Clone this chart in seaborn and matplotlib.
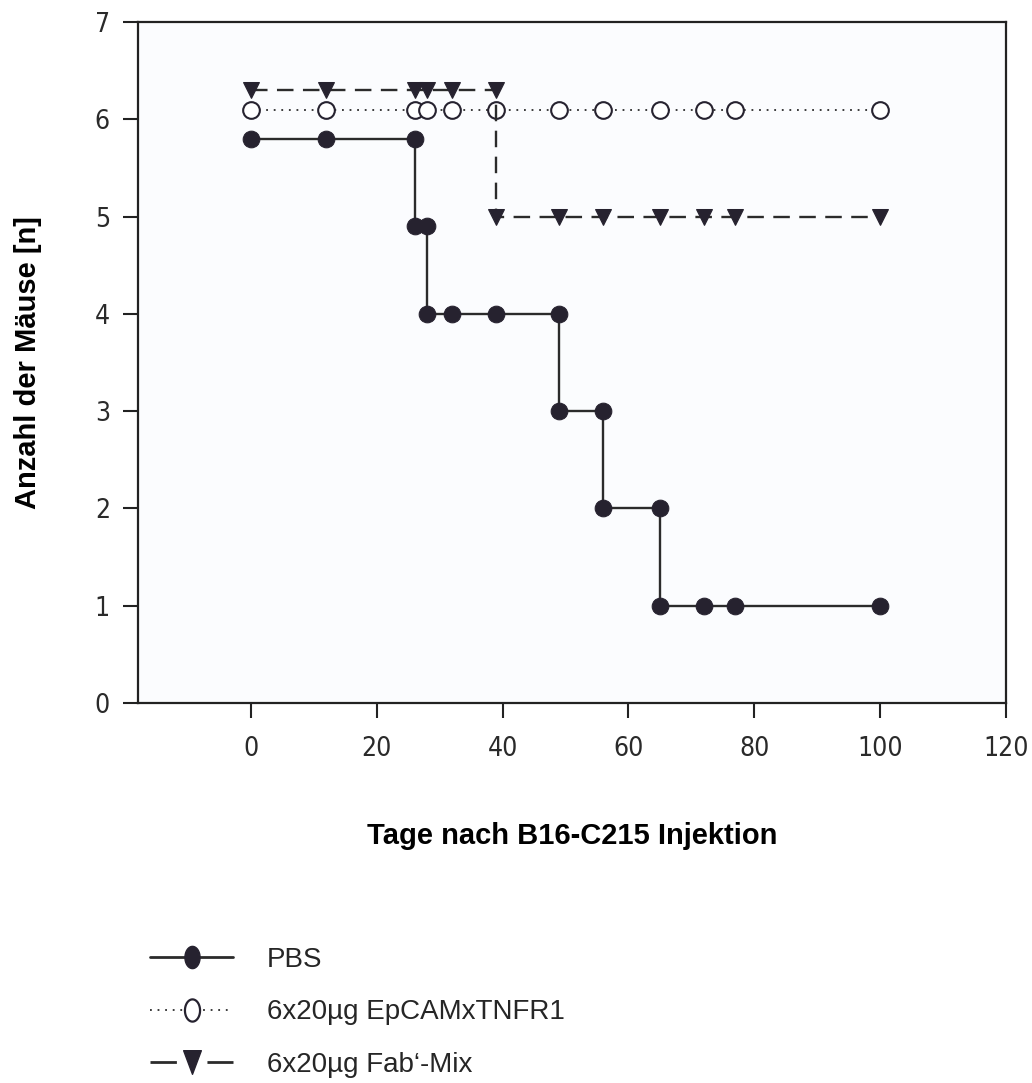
import matplotlib
matplotlib.use("Agg")
import matplotlib.pyplot as plt
import numpy as np
import seaborn as sns
from matplotlib.lines import Line2D
from matplotlib.path import Path
from matplotlib import font_manager

# ---- survival counts (steps drawn point to point, drops repeat the day) ----
days_pbs = [0, 12, 26, 26, 28, 28, 32, 39, 49, 49, 56, 56, 65, 65, 72, 77, 100]
mice_pbs = [5.8, 5.8, 5.8, 4.9, 4.9, 4.0, 4.0, 4.0, 4.0, 3.0, 3.0, 2.0, 2.0, 1.0, 1.0, 1.0, 1.0]

days_epcam = [0, 12, 26, 28, 32, 39, 49, 56, 65, 72, 77, 100]
mice_epcam = [6.1, 6.1, 6.1, 6.1, 6.1, 6.1, 6.1, 6.1, 6.1, 6.1, 6.1, 6.1]

days_fab = [0, 12, 26, 28, 32, 39, 39, 49, 56, 65, 72, 77, 100]
mice_fab = [6.3, 6.3, 6.3, 6.3, 6.3, 6.3, 5.0, 5.0, 5.0, 5.0, 5.0, 5.0, 5.0]

group_labels = ["PBS", "6x20µg EpCAMxTNFR1", "6x20µg Fab‘-Mix"]
x_ticks = [0, 20, 40, 60, 80, 100, 120]
y_ticks = [0, 1, 2, 3, 4, 5, 6, 7]

sns.set_theme(style="ticks")
plt.rcParams["font.family"] = ["Liberation Sans", "DejaVu Sans"]

# narrow upright face for the tick numbers
installed = {f.name for f in font_manager.fontManager.ttflist}
condensed = [f for f in font_manager.fontManager.ttflist
             if f.name == "DejaVu Sans" and f.stretch == "condensed"
             and f.weight == 400 and f.style == "normal"]
if "Liberation Sans Narrow" in installed:
    tick_prop = font_manager.FontProperties(family="Liberation Sans Narrow", size=19.5)
elif condensed:
    tick_prop = font_manager.FontProperties(fname=condensed[0].fname, size=19)
else:
    tick_prop = font_manager.FontProperties(family="Liberation Sans", size=19.5)

ink = "#26222f"
line_col = "#2b2b2b"

fig = plt.figure(figsize=(10.32, 10.83), dpi=100)
ax = fig.add_axes([137.7 / 1032, 1 - 703 / 1083, (1006 - 137.7) / 1032, (703 - 22) / 1083])
ax.set_facecolor("#fbfcfe")

sns.lineplot(x=days_pbs, y=mice_pbs, estimator=None, sort=False, ax=ax,
             color=line_col, linewidth=1.7, linestyle="-",
             marker="o", markersize=12, markerfacecolor=ink, markeredgecolor=ink)
sns.lineplot(x=days_epcam, y=mice_epcam, estimator=None, sort=False, ax=ax,
             color=line_col, linewidth=1.3, linestyle=(0, (1, 3.2)),
             marker="o", markersize=12, markerfacecolor="white",
             markeredgecolor=ink, markeredgewidth=1.5)
sns.lineplot(x=days_fab, y=mice_fab, estimator=None, sort=False, ax=ax,
             color=line_col, linewidth=1.7, linestyle=(0, (7, 4)),
             marker="v", markersize=12, markerfacecolor=ink, markeredgecolor=ink)

ax.set_xlim(-18, 120)
ax.set_ylim(0, 7)
ax.set_xticks(x_ticks)
ax.set_yticks(y_ticks)
ax.set_xticklabels([str(v) for v in x_ticks])
ax.set_yticklabels([str(v) for v in y_ticks])

for sp in ax.spines.values():
    sp.set_visible(True)
    sp.set_linewidth(1.6)
    sp.set_color("#222222")

ax.tick_params(direction="out", length=11, width=1.5, color="#222222", labelcolor="#2a2a2a")
ax.tick_params(axis="x", pad=13)
ax.tick_params(axis="y", pad=9)
for lab in ax.get_xticklabels() + ax.get_yticklabels():
    lab.set_fontproperties(tick_prop)

ax.set_xlabel("Tage nach B16-C215 Injektion", fontsize=21, fontweight="bold", color="black")
ax.xaxis.set_label_coords(0.5, -(822 - 703) / 681)
ax.set_ylabel("Anzahl der Mäuse [n]", fontsize=21, fontweight="bold", color="black")
ax.yaxis.set_label_coords(-(137.7 - 42) / 868.3, 0.5)

# legend symbols: slightly tall ellipse and triangle as in the key
t = np.linspace(0, 2 * np.pi, 64)
ellipse = Path(np.column_stack([0.68 * np.cos(t), np.sin(t)]), closed=True)
tri = Path([(-0.75, 1.0), (0.75, 1.0), (0.0, -1.0), (-0.75, 1.0)], closed=True)

handles = [
    Line2D([], [], color=line_col, linewidth=2.0, linestyle="-",
           marker=ellipse, markersize=16, markerfacecolor=ink, markeredgecolor=ink),
    Line2D([], [], color=line_col, linewidth=1.3, linestyle=(0, (1, 3.2)),
           marker=ellipse, markersize=16, markerfacecolor="white",
           markeredgecolor=ink, markeredgewidth=1.6),
    # one dash on each side of the triangle
    Line2D([], [], color=line_col, linewidth=2.0, linestyle=(0, (9.5, 11)),
           marker=tri, markersize=17, markerfacecolor=ink, markeredgecolor=ink),
]
fig.legend(handles, group_labels, loc="upper left",
           bbox_to_anchor=(150 / 1032, 1 - 947 / 1083),
           frameon=False, fontsize=20, handlelength=3.0, handletextpad=1.2,
           labelspacing=0.95, borderpad=0, borderaxespad=0)

fig.savefig("out.png", dpi=100, facecolor="white")
